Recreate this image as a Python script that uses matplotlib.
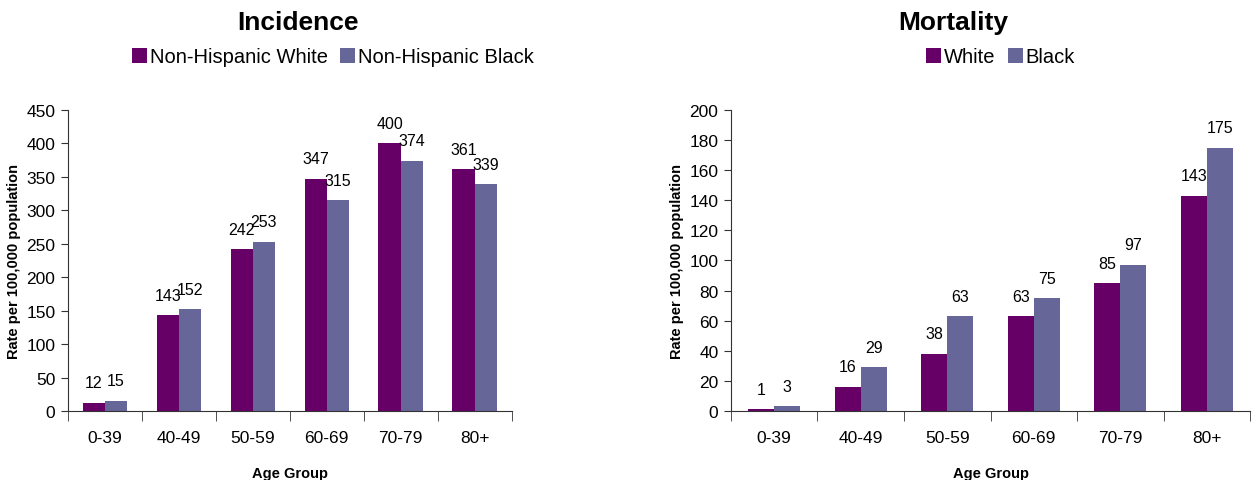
import numpy as np
import matplotlib
matplotlib.use('Agg')
import matplotlib.pyplot as plt

# --- Data ---
age_groups = ["0-39", "40-49", "50-59", "60-69", "70-79", "80+"]
incidence_white = [12, 143, 242, 347, 400, 361]
incidence_black = [15, 152, 253, 315, 374, 339]
mortality_white = [1, 16, 38, 63, 85, 143]
mortality_black = [3, 29, 63, 75, 97, 175]

purple = "#660066"
slate = "#666699"
axis_grey = "#333333"

plt.rcParams['font.family'] = ['Liberation Sans', 'DejaVu Sans']

fig = plt.figure(figsize=(12.57, 4.81), dpi=100)
ax1 = fig.add_axes([0.054, 0.1435, 0.353, 0.626])
ax2 = fig.add_axes([0.5815, 0.1435, 0.413, 0.626])


def draw_panel(ax, white, black, ymax, ystep, title, names, title_x, legend_x):
    x = np.arange(len(age_groups))
    w = 0.3
    b1 = ax.bar(x - w / 2, white, w, color=purple, label=names[0])
    b2 = ax.bar(x + w / 2, black, w, color=slate, label=names[1])
    for bars, vals in ((b1, white), (b2, black)):
        for rect, v in zip(bars, vals):
            ax.annotate(str(v), (rect.get_x() + rect.get_width() / 2, v),
                        xytext=(0, 9), textcoords="offset points",
                        ha="center", va="bottom", fontsize=11.5)

    ax.set_xlim(-0.5, len(age_groups) - 0.5)
    ax.set_ylim(0, ymax)
    ax.set_yticks(np.arange(0, ymax + 1, ystep))
    ax.set_xticks(x)
    ax.set_xticklabels(age_groups, fontsize=12.5)
    ax.set_xticks(np.arange(-0.5, len(age_groups)), minor=True)
    ax.tick_params(axis="x", which="major", length=0, pad=14)
    ax.tick_params(axis="x", which="minor", length=7, color=axis_grey, direction="out")
    ax.tick_params(axis="y", labelsize=12.5, length=5, color=axis_grey, pad=4)

    for s in ("top", "right"):
        ax.spines[s].set_visible(False)
    for s in ("left", "bottom"):
        ax.spines[s].set_color(axis_grey)

    ax.set_xlabel("Age Group", fontsize=10.5, fontweight="bold", labelpad=15)
    ax.set_ylabel("Rate per 100,000 population", fontsize=10.5, fontweight="bold", labelpad=4)

    fig.text(title_x, 0.953, title, fontsize=19, fontweight="bold",
             ha="center", va="center")
    fig.legend(handles=[b1, b2], loc="center", bbox_to_anchor=(legend_x, 0.88),
               ncol=2, frameon=False, fontsize=14.5, handlelength=0.75,
               handleheight=0.75, handletextpad=0.15, columnspacing=0.6,
               borderaxespad=0)


draw_panel(ax1, incidence_white, incidence_black, 450, 50, "Incidence",
           ["Non-Hispanic White", "Non-Hispanic Black"], 0.237, 0.265)
draw_panel(ax2, mortality_white, mortality_black, 200, 20, "Mortality",
           ["White", "Black"], 0.758, 0.796)

fig.savefig("out.png", dpi=100)
